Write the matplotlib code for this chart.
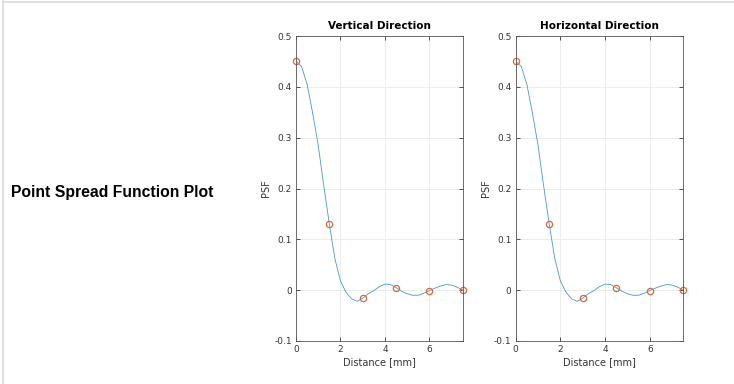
import matplotlib
matplotlib.use("Agg")
import matplotlib.pyplot as plt
from matplotlib.lines import Line2D

# Sampled PSF values (markers)
sample_x = [0.0, 1.5, 3.0, 4.5, 6.0, 7.5]
sample_v = [0.45, 0.13, -0.015, 0.004, -0.002, 0.0]
sample_h = [0.45, 0.13, -0.015, 0.004, -0.002, 0.0]

# Continuous curve
curve_x = [0.0, 0.25, 0.5, 0.75, 1.0, 1.25, 1.5, 1.75, 2.0, 2.25, 2.5, 2.75,
           3.0, 3.25, 3.5, 3.75, 4.0, 4.25, 4.5, 4.75, 5.0, 5.25, 5.5, 5.75,
           6.0, 6.25, 6.5, 6.75, 7.0, 7.25, 7.5]
curve_v = [0.45, 0.440, 0.405, 0.348, 0.285, 0.205, 0.130, 0.062, 0.018, -0.004,
           -0.017, -0.022, -0.016, -0.007, -0.001, 0.007, 0.012, 0.011, 0.005,
           -0.002, -0.007, -0.010, -0.010, -0.006, -0.001, 0.004, 0.008, 0.011,
           0.010, 0.006, 0.0]
curve_h = list(curve_v)

titles = ["Vertical Direction", "Horizontal Direction"]
xticks = [0, 2, 4, 6]
yticks = [-0.1, 0, 0.1, 0.2, 0.3, 0.4, 0.5]
ytick_labels = ["-0.1", "0", "0.1", "0.2", "0.3", "0.4", "0.5"]

W, H = 734, 384
fig = plt.figure(figsize=(W / 100, H / 100), dpi=100)
fig.patch.set_facecolor("white")

# page borders
fig.add_artist(Line2D([3 / W, 3 / W], [0, 1 - 1 / H], color="#d9d9d9", lw=1.2))
fig.add_artist(Line2D([3 / W, 1], [1 - 1.5 / H, 1 - 1.5 / H], color="#dcdcdc", lw=1.2))

fig.text(11 / W, 1 - 193 / H, "Point Spread Function Plot", fontsize=11.3,
         fontweight="bold", family="Liberation Sans", va="center", ha="left",
         color="black")

axc = "#333333"
blue = (0.25, 0.6, 0.85)
orange = (0.88, 0.4, 0.2)

positions = [(296, 462.7), (515.7, 683.3)]
top, bot = 36, 341
data = [(curve_v, sample_v), (curve_h, sample_h)]

for (x0, x1), title, (cv, sv) in zip(positions, titles, data):
    ax = fig.add_axes([x0 / W, 1 - bot / H, (x1 - x0) / W, (bot - top) / H])
    ax.plot(curve_x, cv, color=blue, lw=0.6)
    ax.plot(sample_x, sv, "o", mfc="none", mec=orange, ms=4.5, mew=0.9,
            clip_on=False)
    ax.set_xlim(0, 7.5)
    ax.set_ylim(-0.1, 0.5)
    ax.set_xticks(xticks)
    ax.set_yticks(yticks)
    ax.set_yticklabels(ytick_labels)
    ax.grid(True, color="#ececec", lw=0.7)
    ax.set_axisbelow(True)
    ax.tick_params(direction="in", length=3, width=0.6, labelsize=6.5,
                   colors=axc, top=True, right=True, pad=3)
    for s in ax.spines.values():
        s.set_color("#555555")
        s.set_linewidth(0.6)
    ax.set_title(title, fontsize=7.5, fontweight="bold", color="black", pad=5)
    ax.set_xlabel("Distance [mm]", fontsize=7, color=axc, labelpad=2)
    ax.set_ylabel("PSF", fontsize=7, color=axc, labelpad=2)

fig.savefig("out.png", dpi=100, facecolor="white")
